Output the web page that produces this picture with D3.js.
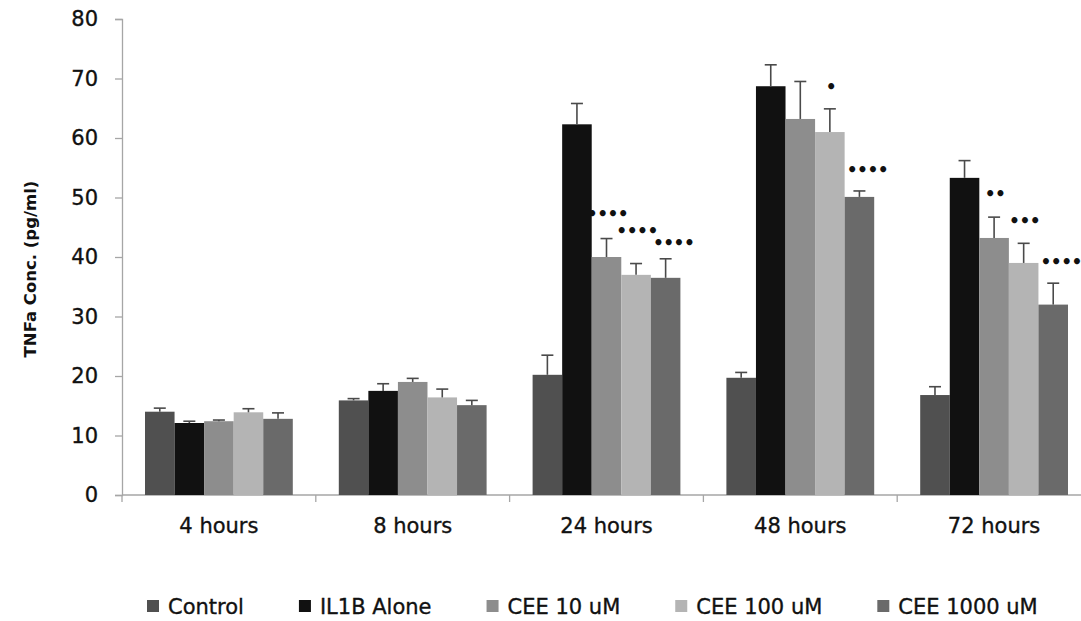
<!DOCTYPE html>
<html>
<head>
<meta charset="utf-8">
<script src="https://cdn.jsdelivr.net/npm/d3@7"></script>
<style>
  html, body { margin: 0; padding: 0; background: #fff; }
  svg { display: block; }
  text { font-family: "DejaVu Sans", Verdana, sans-serif; fill: #111; }
  .lbl { stroke: #111; stroke-width: 0.35px; }
</style>
</head>
<body>
<svg id="chart" width="1081" height="621"></svg>
<script>
// Time points on the x axis
const timepoints = ["4 hours", "8 hours", "24 hours", "48 hours", "72 hours"];
// Treatment groups (bar series)
const groups = ["Control", "IL1B Alone", "CEE 10 uM", "CEE 100 uM", "CEE 1000 uM"];
const groupColors = ["#505050", "#111111", "#8d8d8d", "#b4b4b4", "#6a6a6a"];

// Mean TNFa concentration (pg/ml), one array per group, ordered by time point
const control  = [14.0, 15.9, 20.2, 19.7, 16.8];
const il1b     = [12.1, 17.5, 62.3, 68.7, 53.3];
const cee10    = [12.4, 19.0, 40.0, 63.2, 43.2];
const cee100   = [13.9, 16.4, 37.0, 61.0, 39.0];
const cee1000  = [12.8, 15.1, 36.5, 50.1, 32.0];

// Upper error (SEM), same order
const controlErr = [0.6, 0.3, 3.3, 0.9, 1.4];
const il1bErr    = [0.3, 1.2, 3.5, 3.6, 2.9];
const cee10Err   = [0.2, 0.6, 3.1, 6.3, 3.5];
const cee100Err  = [0.6, 1.4, 1.9, 3.9, 3.3];
const cee1000Err = [1.0, 0.8, 3.2, 1.0, 3.6];

// Significance marks and the value at which each is written
const cee10Sig    = ["", "", "****", "", "**"];
const cee100Sig   = ["", "", "****", "*", "***"];
const cee1000Sig  = ["", "", "****", "****", "****"];
const cee10SigAt  = [0, 0, 47.2, 0, 50.6];
const cee100SigAt = [0, 0, 44.4, 68.6, 46.0];
const cee1000SigAt= [0, 0, 42.4, 54.6, 39.1];

// Y axis ticks
const yTicks = [0, 10, 20, 30, 40, 50, 60, 70, 80];

const means = [control, il1b, cee10, cee100, cee1000];
const errs  = [controlErr, il1bErr, cee10Err, cee100Err, cee1000Err];
const sigs  = [null, null, cee10Sig, cee100Sig, cee1000Sig];
const sigAt = [null, null, cee10SigAt, cee100SigAt, cee1000SigAt];

const svg = d3.select("#chart");
const plotLeft = 122, plotTop = 19, plotBottom = 495;
const catWidth = 193.8;

const x = d3.scaleBand()
  .domain(timepoints)
  .range([plotLeft, plotLeft + catWidth * timepoints.length])
  .padding(0);

const xInner = d3.scaleBand()
  .domain(groups)
  .range([23, catWidth - 23])
  .padding(0);

const y = d3.scaleLinear().domain([0, 80]).range([plotBottom, plotTop]);

// Y axis
const yAxis = d3.axisLeft(y).tickValues(yTicks).tickSize(7).tickPadding(17).tickFormat(d3.format("d"));
const gy = svg.append("g").attr("transform", `translate(${plotLeft},0)`).call(yAxis);
gy.select(".domain").attr("stroke", "#a6a6a6").attr("stroke-width", 1.3);
gy.selectAll(".tick line").attr("stroke", "#a6a6a6").attr("stroke-width", 1.3);
gy.selectAll(".tick text").attr("font-size", 21).attr("fill", "#111").attr("class", "lbl")
  .style("font-family", "'DejaVu Sans', Verdana, sans-serif");

// X axis: boundary ticks between categories
const gx = svg.append("g");
gx.append("line")
  .attr("x1", plotLeft).attr("x2", 1081)
  .attr("y1", plotBottom).attr("y2", plotBottom)
  .attr("stroke", "#a6a6a6").attr("stroke-width", 1.3);
gx.selectAll("line.cat")
  .data(timepoints)
  .join("line")
  .attr("class", "cat")
  .attr("x1", d => x(d)).attr("x2", d => x(d))
  .attr("y1", plotBottom).attr("y2", plotBottom + 7)
  .attr("stroke", "#a6a6a6").attr("stroke-width", 1.3);
gx.selectAll("text")
  .data(timepoints)
  .join("text")
  .attr("class", "lbl")
  .attr("x", d => x(d) + x.bandwidth() / 2)
  .attr("y", 533)
  .attr("text-anchor", "middle")
  .attr("font-size", 21)
  .text(d => d);

// Y axis title
svg.append("text")
  .attr("transform", `translate(36,${(plotTop + plotBottom) / 2 + 12}) rotate(-90)`)
  .attr("text-anchor", "middle")
  .attr("font-size", 16.5)
  .attr("font-weight", "bold")
  .text("TNFa Conc. (pg/ml)");

// Bars, error bars and significance marks
const rows = [];
groups.forEach((g, gi) => {
  timepoints.forEach((t, ti) => {
    rows.push({
      g, gi, t,
      v: means[gi][ti],
      e: errs[gi][ti],
      s: sigs[gi] ? sigs[gi][ti] : "",
      sAt: sigAt[gi] ? sigAt[gi][ti] : 0
    });
  });
});

const bars = svg.append("g");
bars.selectAll("rect")
  .data(rows)
  .join("rect")
  .attr("x", d => x(d.t) + xInner(d.g))
  .attr("width", xInner.bandwidth())
  .attr("y", d => y(d.v))
  .attr("height", d => y(0) - y(d.v))
  .attr("fill", d => groupColors[d.gi]);

const eb = svg.append("g").attr("stroke", "#4a4a4a").attr("stroke-width", 1.6);
eb.selectAll("line.v")
  .data(rows)
  .join("line")
  .attr("class", "v")
  .attr("x1", d => x(d.t) + xInner(d.g) + xInner.bandwidth() / 2)
  .attr("x2", d => x(d.t) + xInner(d.g) + xInner.bandwidth() / 2)
  .attr("y1", d => y(d.v))
  .attr("y2", d => y(d.v + d.e));
eb.selectAll("line.c")
  .data(rows)
  .join("line")
  .attr("class", "c")
  .attr("x1", d => x(d.t) + xInner(d.g) + xInner.bandwidth() / 2 - 6)
  .attr("x2", d => x(d.t) + xInner(d.g) + xInner.bandwidth() / 2 + 6)
  .attr("y1", d => y(d.v + d.e))
  .attr("y2", d => y(d.v + d.e));

svg.append("g").selectAll("text")
  .data(rows.filter(d => d.s))
  .join("text")
  .attr("x", d => x(d.t) + xInner(d.g) + xInner.bandwidth() / 2 + (d.gi === 4 ? 8 : 1))
  .attr("y", d => y(d.sAt))
  .attr("text-anchor", "middle")
  .attr("dominant-baseline", "central")
  .attr("font-size", 17)
  .attr("font-weight", "bold")
  .attr("letter-spacing", -0.5)
  .text(d => d.s.replace(/\*/g, "\u2022"));

// Legend
const legend = svg.append("g").attr("transform", "translate(147,0)");
let lx = 0;
groups.forEach((g, gi) => {
  const item = legend.append("g").attr("transform", `translate(${lx},0)`);
  item.append("rect")
    .attr("x", 0).attr("y", 600)
    .attr("width", 12).attr("height", 12)
    .attr("fill", groupColors[gi]);
  const t = item.append("text")
    .attr("class", "lbl")
    .attr("x", 21).attr("y", 614)
    .attr("font-size", 21)
    .text(g);
  lx += 21 + t.node().getComputedTextLength() + 55;
});
</script>
</body>
</html>
